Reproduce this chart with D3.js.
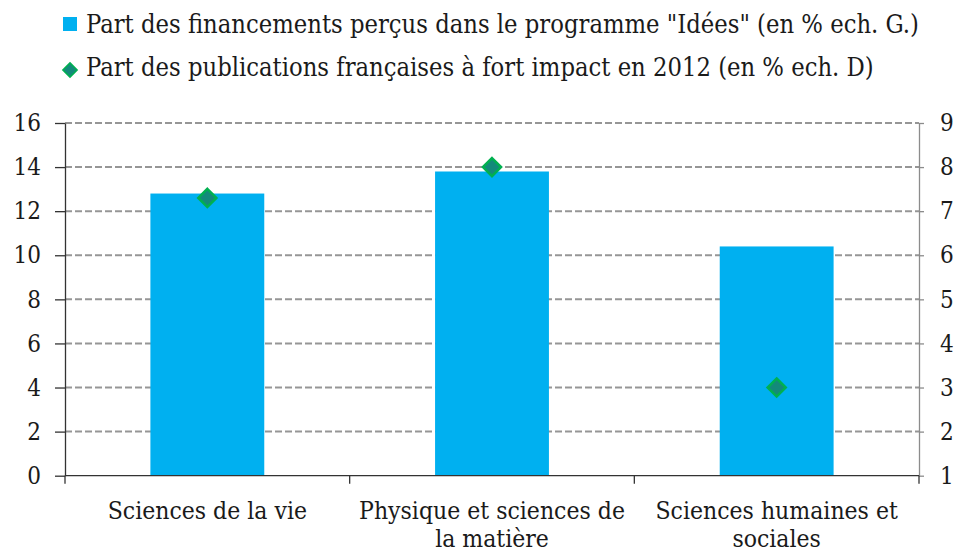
<!DOCTYPE html>
<html>
<head>
<meta charset="utf-8">
<script src="https://cdn.jsdelivr.net/npm/d3@7"></script>
<style>
  body { margin: 0; background: #fff; }
  svg text { font-family: "DejaVu Serif", "Liberation Serif", serif; font-stretch: condensed; fill: #1a1a1a; }
</style>
</head>
<body>
<svg id="chart" width="958" height="552"></svg>
<script>
// categories and values
const categories = ["Sciences de la vie", "Physique et sciences de la matière", "Sciences humaines et sociales"];
const categoryLines = [["Sciences de la vie"], ["Physique et sciences de", "la matière"], ["Sciences humaines et", "sociales"]];
const financements = [12.8, 13.8, 10.4];   // left axis
const publications = [7.3, 8.0, 3.0];      // right axis
const leftTicks = [0, 2, 4, 6, 8, 10, 12, 14, 16];
const rightTicks = [1, 2, 3, 4, 5, 6, 7, 8, 9];
const legendLabels = [
  'Part des financements perçus dans le programme "Idées" (en % ech. G.)',
  'Part des publications françaises à fort impact en 2012 (en % ech. D)'
];

const barColor = "#00b0f0";
const diamondFill = "#138a7a";
const diamondStroke = "#00b050";

let svg = d3.select("#chart");
let plotLeft = 65, plotRight = 919, plotTop = 123, plotBottom = 475.7;

let x = d3.scaleBand().domain(categories).range([plotLeft, plotRight]).paddingInner(0).paddingOuter(0);
let yL = d3.scaleLinear().domain([0, 16]).range([plotBottom, plotTop]);
let yR = d3.scaleLinear().domain([1, 9]).range([plotBottom, plotTop]);

// gridlines
svg.append("g")
  .selectAll("line")
  .data(leftTicks.filter(d => d > 0))
  .enter()
  .append("line")
  .attr("x1", plotLeft)
  .attr("x2", plotRight)
  .attr("y1", d => yL(d))
  .attr("y2", d => yL(d))
  .style("stroke", "#969696")
  .style("stroke-width", 2)
  .style("stroke-dasharray", "7,3");

// bars
let barW = x.bandwidth() * 0.4;
svg.append("g")
  .selectAll("rect")
  .data(categories)
  .enter()
  .append("rect")
  .attr("x", d => x(d) + (x.bandwidth() - barW) / 2)
  .attr("y", (d, i) => yL(financements[i]))
  .attr("width", barW)
  .attr("height", (d, i) => plotBottom - yL(financements[i]))
  .style("fill", barColor);

// left axis
let gL = svg.append("g")
  .attr("transform", `translate(${plotLeft},0)`)
  .call(d3.axisLeft(yL).tickValues(leftTicks).tickSize(10).tickSizeOuter(0).tickPadding(14));
gL.select(".domain").style("stroke", "#333").style("stroke-width", 1.3);
gL.selectAll(".tick line").style("stroke", "#333").style("stroke-width", 1.3);
gL.selectAll("text").style("font-size", "24px").style("fill", "#1a1a1a");

// right axis
let gR = svg.append("g")
  .attr("transform", `translate(${plotRight},0)`)
  .call(d3.axisRight(yR).tickValues(rightTicks).tickSize(5).tickSizeOuter(0).tickPadding(16));
gR.select(".domain").style("stroke", "#8c8c8c").style("stroke-width", 1.3);
gR.selectAll(".tick line").style("stroke", "#8c8c8c").style("stroke-width", 1.3);
gR.selectAll("text").style("font-size", "24px").style("fill", "#1a1a1a");

// bottom axis with ticks between categories
let gB = svg.append("g").attr("transform", `translate(0,${plotBottom})`);
gB.append("line")
  .attr("x1", plotLeft).attr("x2", plotRight)
  .style("stroke", "#333").style("stroke-width", 1.3);
let bounds = categories.map(d => x(d)).concat([plotRight]);
gB.selectAll("line.tk")
  .data(bounds)
  .enter()
  .append("line")
  .attr("class", "tk")
  .attr("x1", d => d).attr("x2", d => d)
  .attr("y1", 0).attr("y2", 8)
  .style("stroke", "#333").style("stroke-width", 1.3);
let labels = gB.selectAll("text.cat")
  .data(categories)
  .enter()
  .append("text")
  .attr("class", "cat")
  .attr("text-anchor", "middle")
  .attr("x", d => x(d) + x.bandwidth() / 2)
  .attr("y", 43.5)
  .style("font-size", "24.5px");
labels.selectAll("tspan")
  .data((d, i) => categoryLines[i])
  .enter()
  .append("tspan")
  .attr("x", function () { return d3.select(this.parentNode).attr("x"); })
  .attr("dy", (d, i) => i === 0 ? 0 : 28)
  .text(d => d);

// diamonds
let diamond = d3.symbol().type(d3.symbolDiamond2).size(210);
svg.append("g")
  .selectAll("path")
  .data(categories)
  .enter()
  .append("path")
  .attr("d", diamond)
  .attr("transform", (d, i) => `translate(${x(d) + x.bandwidth() / 2},${yR(publications[i])})`)
  .style("fill", diamondFill)
  .style("stroke", diamondStroke)
  .style("stroke-width", 2.5);

// legend
let legend = svg.append("g");
legend.append("rect")
  .attr("x", 63).attr("y", 17).attr("width", 14).attr("height", 14)
  .style("fill", barColor);
legend.append("path")
  .attr("d", d3.symbol().type(d3.symbolDiamond2).size(130))
  .attr("transform", "translate(70,70)")
  .style("fill", diamondFill)
  .style("stroke", diamondStroke)
  .style("stroke-width", 1.5);
legend.selectAll("text")
  .data(legendLabels)
  .enter()
  .append("text")
  .attr("x", 86)
  .attr("y", (d, i) => 33 + i * 43)
  .style("font-size", "25.3px")
  .text(d => d);
</script>
</body>
</html>
